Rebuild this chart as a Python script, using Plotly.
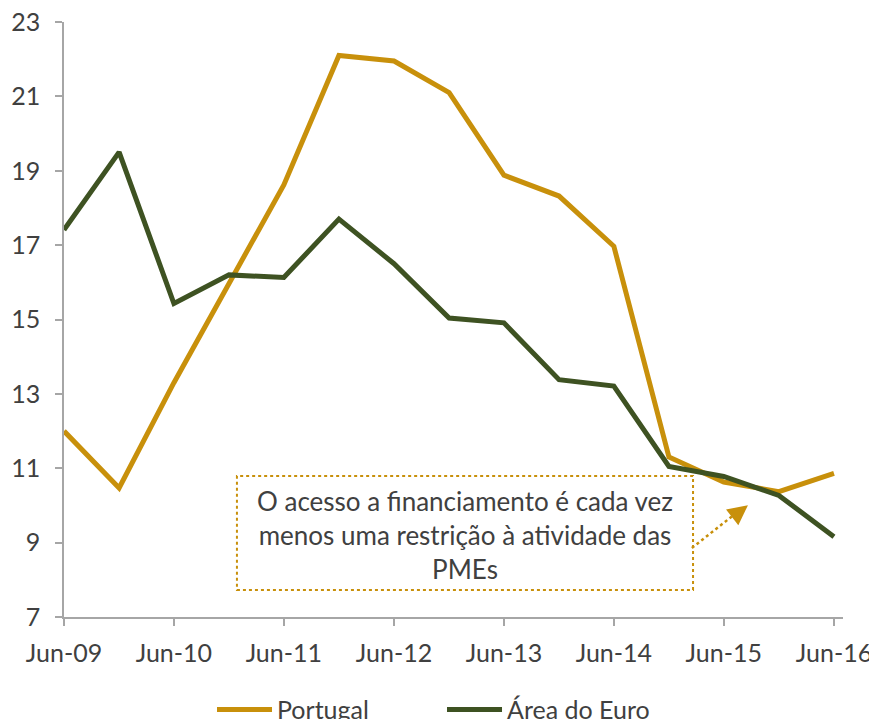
import plotly.graph_objects as go

# Datas semestrais (Jun / Dez)
datas = ["2009-06-15", "2009-12-15", "2010-06-15", "2010-12-15", "2011-06-15",
         "2011-12-15", "2012-06-15", "2012-12-15", "2013-06-15", "2013-12-15",
         "2014-06-15", "2014-12-15", "2015-06-15", "2015-12-15", "2016-06-15"]

portugal = [12.0, 10.47, 13.3, 16.0, 18.62, 22.1, 21.95, 21.1, 18.88, 18.32,
            16.97, 11.3, 10.63, 10.37, 10.86]
area_euro = [17.41, 19.5, 15.43, 16.2, 16.13, 17.7, 16.5, 15.04, 14.91, 13.38,
             13.21, 11.05, 10.78, 10.27, 9.16]

tick_datas = ["2009-06-15", "2010-06-15", "2011-06-15", "2012-06-15",
              "2013-06-15", "2014-06-15", "2015-06-15", "2016-06-15"]
tick_labels = ["Jun-09", "Jun-10", "Jun-11", "Jun-12", "Jun-13", "Jun-14", "Jun-15", "Jun-16"]

cor_pt = "#C8900B"
cor_euro = "#3E5222"
cor_texto = "#404040"
fonte = "Lato, 'Open Sans', sans-serif"

fig = go.Figure()

fig.add_trace(go.Scatter(
    x=datas, y=portugal, mode="lines", name="Portugal",
    line=dict(color=cor_pt, width=5),
))
fig.add_trace(go.Scatter(
    x=datas, y=area_euro, mode="lines", name="Área do Euro",
    line=dict(color=cor_euro, width=5),
))

# caixa de texto com contorno pontilhado
fig.add_shape(type="rect", xref="paper", yref="paper",
              x0=0.222, x1=0.8075, y0=0.0454, y1=0.237,
              line=dict(color=cor_pt, width=2, dash="dot"))
fig.add_annotation(xref="paper", yref="paper", x=0.515, y=0.138,
                   xanchor="center", yanchor="middle",
                   text="O acesso a financiamento é cada vez<br>menos uma restrição à atividade das<br>PMEs",
                   showarrow=False, align="center",
                   font=dict(size=26, color=cor_texto, family=fonte))

# seta pontilhada
fig.add_shape(type="line", xref="paper", yref="paper",
              x0=0.806, y0=0.116, x1=0.868, y1=0.180,
              line=dict(color=cor_pt, width=2.5, dash="dot"))
fig.add_annotation(xref="paper", yref="paper", x=0.878, y=0.188,
                   ax=-9, ay=7, text="", showarrow=True,
                   arrowhead=2, arrowsize=1.6, arrowwidth=2.5, arrowcolor=cor_pt)

# a página tem 8px de margem no body: compensar
fig.update_layout(
    width=869, height=711,
    margin=dict(l=56, r=34, t=14, b=102, autoexpand=False),
    plot_bgcolor="white", paper_bgcolor="white",
    font=dict(family=fonte, size=25, color=cor_texto),
    showlegend=True,
    legend=dict(orientation="h", x=0.19, xanchor="left", y=-0.156, yanchor="middle",
                itemwidth=55, entrywidth=160, entrywidthmode="pixels",
                font=dict(size=25, color=cor_texto)),
    xaxis=dict(
        type="date", range=["2009-06-15", "2016-07-15"],
        tickmode="array", tickvals=tick_datas, ticktext=tick_labels,
        showgrid=False, zeroline=False, automargin=False,
        showline=True, linecolor="#A6A6A6", linewidth=1.5,
        ticks="outside", ticklen=7, tickcolor="#A6A6A6", tickwidth=1.5,
        ticklabelstandoff=6, ticklabeloverflow="allow",
        tickfont=dict(size=25, color=cor_texto),
    ),
    yaxis=dict(
        range=[7, 23], tickvals=[7, 9, 11, 13, 15, 17, 19, 21, 23],
        showgrid=False, zeroline=False, automargin=False,
        showline=True, linecolor="#A6A6A6", linewidth=1.5,
        ticks="outside", ticklen=7, tickcolor="#A6A6A6", tickwidth=1.5,
        ticklabelstandoff=10, ticklabeloverflow="allow",
        tickfont=dict(size=25, color=cor_texto),
    ),
)

fig.write_html("out.html")
